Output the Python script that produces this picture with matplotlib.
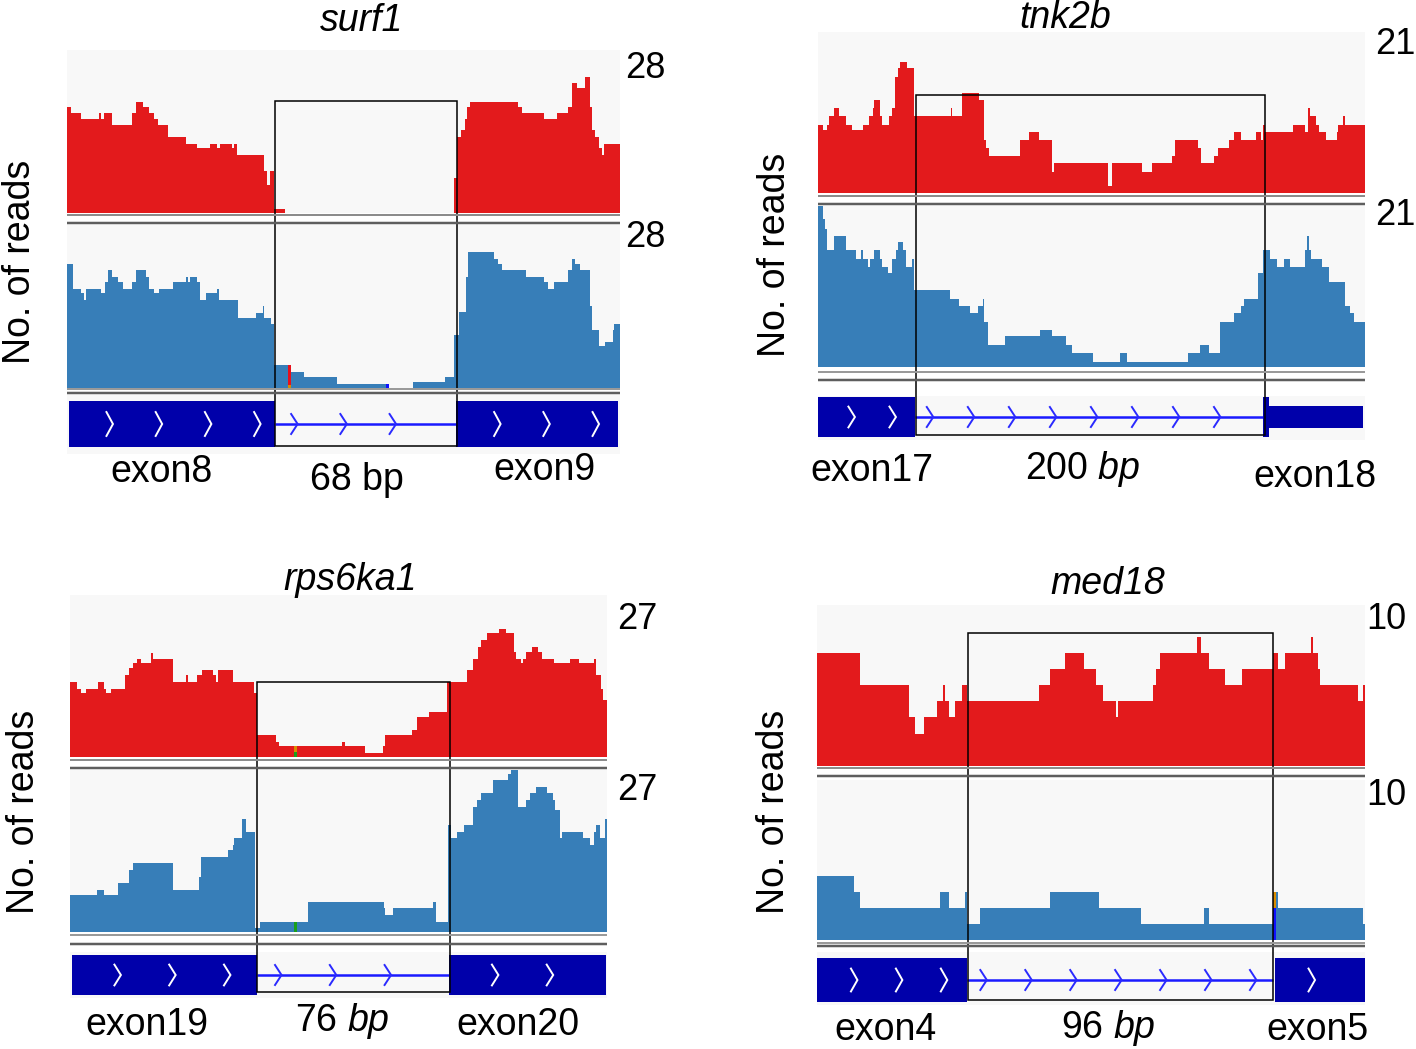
import matplotlib
matplotlib.use('Agg')
import matplotlib.pyplot as plt
from matplotlib.lines import Line2D
from matplotlib.patches import Rectangle
from matplotlib import transforms
import numpy as np

plt.rcParams['font.family'] = ['Liberation Sans', 'DejaVu Sans']
plt.rcParams['mathtext.fontset'] = 'custom'
plt.rcParams['mathtext.rm'] = 'Liberation Sans'
plt.rcParams['mathtext.it'] = 'Liberation Sans:italic'

# ---------------- data (x = position along the window, % ; y = reads) ----------------
genes = ['surf1', 'tnk2b', 'rps6ka1', 'med18']
scale_max = [28, 21, 27, 10]
left_exon = ['exon8', 'exon17', 'exon19', 'exon4']
right_exon = ['exon9', 'exon18', 'exon20', 'exon5']
intron_text = ['68 bp', '200 $\\mathit{bp}$', '76 $\\mathit{bp}$', '96 $\\mathit{bp}$']

surf1_red_pos = [0, 0.7, 2.5, 5.8, 6.1, 6.7, 8.1, 11.8, 12.5, 13.8, 14.8, 15.8, 16.5, 18.2, 21.5, 23.5,
                 25.9, 27.2, 27.7, 29.9, 30.2, 30.7, 35.7, 36.2, 36.7, 37.4, 39.5, 69.9, 70.6, 71.3,
                 71.9, 72.3, 72.9, 81.6, 82.3, 86.3, 88.6, 90.6, 91.3, 92.2, 93.7, 94.5, 95.0, 95.5,
                 96.2, 96.7, 97.1, 100]
surf1_red = [18.2, 17.1, 16.2, 17.1, 16.2, 17.1, 15.1, 17.1, 19.1, 18.2, 17.1, 16.2, 15.1, 13.1, 11.9,
             11.1, 11.9, 11.1, 11.9, 11.1, 11.9, 9.9, 7.1, 4.8, 7.1, 0.7, 0, 5.9, 13.1, 14.3, 16.2,
             18.2, 19.1, 18.2, 17.1, 16.2, 17.1, 18.2, 22.3, 21.4, 23.4, 18.2, 14.3, 13.1, 11.1, 9.9, 11.9]
surf1_blue_pos = [0, 1.0, 2.5, 3.0, 3.5, 6.1, 6.8, 7.5, 8.1, 9.2, 10.2, 11.8, 12.5, 14.2, 14.8, 15.8,
                  16.7, 19.2, 21.5, 21.8, 22.3, 23.5, 24.0, 25.2, 27.2, 27.5, 30.9, 34.1, 35.4, 35.7,
                  36.9, 37.5, 40.5, 42.9, 48.9, 57.9, 62.6, 68.3, 69.9, 70.9, 72.1, 72.5, 77.3, 78.0,
                  78.6, 83.0, 86.3, 86.9, 88.0, 90.6, 91.3, 91.8, 92.7, 94.5, 94.9, 96.2, 97.3, 98.7,
                  99.0, 100]
surf1_blue = [21.3, 17.0, 16.2, 15.0, 17.0, 16.2, 18.2, 20.2, 19.0, 18.2, 17.0, 18.2, 20.2, 19.0, 17.0,
              16.2, 17.0, 18.2, 19.0, 18.2, 19.0, 18.2, 15.0, 16.2, 17.0, 15.0, 11.9, 12.9, 14.1, 11.9,
              11.0, 3.9, 2.7, 1.9, 0.7, 0, 0.9, 1.9, 9.0, 13.0, 19.0, 23.3, 22.1, 21.3, 20.2, 19.0,
              18.2, 17.0, 18.2, 20.2, 22.1, 21.3, 20.2, 14.1, 9.9, 7.1, 7.9, 9.9, 11.0]

tnk2b_red_pos = [0, 0.9, 1.6, 2.1, 3.0, 3.9, 5.1, 6.2, 8.3, 9.3, 10.0, 10.3, 11.4, 11.7, 13.0, 13.5,
                 14.0, 14.7, 15.0, 16.3, 17.5, 24.3, 24.5, 26.4, 29.4, 30.3, 30.8, 31.3, 36.9, 38.5,
                 40.4, 42.7, 43.1, 53.0, 53.7, 59.2, 61.0, 64.8, 65.2, 69.4, 70.1, 72.4, 73.1, 75.2,
                 76.1, 77.3, 80.1, 81.0, 81.3, 81.7, 86.9, 89.0, 89.6, 89.9, 91.1, 91.5, 92.9, 94.8,
                 95.1, 96.0, 96.4, 100]
tnk2b_red = [8.9, 8.2, 8.9, 10.0, 11.1, 10.0, 8.9, 8.2, 8.9, 10.0, 11.1, 12.1, 10.0, 8.9, 10.0, 11.1,
             15.2, 16.3, 17.1, 16.3, 10.0, 11.1, 10.0, 13.0, 12.1, 6.9, 5.9, 4.9, 6.9, 8.0, 6.9, 2.8,
             3.9, 0.9, 3.9, 2.8, 3.9, 4.9, 6.9, 5.9, 3.9, 4.9, 5.9, 6.9, 8.0, 6.9, 8.0, 6.9, 8.9, 8.0,
             8.9, 8.0, 11.1, 10.0, 8.9, 8.0, 6.9, 8.0, 8.9, 10.0, 8.9]
tnk2b_blue_pos = [0, 0.9, 1.3, 1.6, 3.0, 5.2, 6.9, 7.9, 8.3, 9.1, 9.5, 10.2, 11.4, 11.7, 12.8, 13.5,
                  14.2, 14.7, 15.6, 16.1, 17.2, 17.5, 24.2, 25.7, 27.8, 29.2, 30.1, 30.3, 31.0, 34.1,
                  40.6, 42.7, 45.3, 46.4, 50.2, 55.2, 56.5, 67.7, 69.9, 71.5, 73.5, 76.1, 77.3, 77.8,
                  80.4, 81.3, 82.7, 83.9, 85.2, 86.2, 89.0, 89.4, 89.7, 90.1, 92.2, 93.4, 96.4, 97.2,
                  97.9, 100]
tnk2b_blue = [21.0, 19.3, 17.9, 15.2, 17.0, 15.2, 14.1, 15.2, 14.1, 13.0, 14.1, 15.2, 14.1, 13.0, 12.2,
              14.1, 15.2, 16.3, 15.2, 13.0, 14.1, 10.0, 8.9, 7.9, 7.0, 7.9, 8.9, 5.9, 2.9, 4.0, 4.8,
              4.0, 2.9, 1.8, 0.7, 1.8, 0.7, 1.8, 2.9, 1.8, 5.9, 7.0, 7.9, 8.9, 12.2, 15.2, 14.1, 13.0,
              14.1, 13.0, 15.2, 17.0, 15.2, 14.1, 13.0, 11.1, 7.9, 7.0, 5.9]

rps6ka1_red_pos = [0, 1.3, 2.1, 3.0, 5.2, 6.3, 6.7, 7.7, 10.3, 11.0, 11.7, 12.5, 13.2, 15.0, 15.4, 19.2,
                   21.6, 22.0, 23.6, 24.5, 26.6, 27.1, 27.6, 30.4, 34.3, 34.8, 38.3, 38.9, 50.6, 51.3,
                   54.9, 58.3, 58.7, 63.6, 64.6, 66.9, 70.2, 73.9, 75.1, 75.9, 76.6, 77.6, 79.9, 81.2,
                   82.6, 83.1, 84.0, 84.4, 84.9, 86.0, 87.2, 87.9, 90.2, 93.1, 94.7, 97.5, 97.9, 98.9,
                   99.2, 100]
rps6ka1_red = [12.5, 11.4, 10.6, 11.4, 12.5, 11.4, 10.6, 11.4, 13.6, 14.8, 15.6, 16.4, 15.6, 17.3, 16.4,
               12.5, 13.6, 12.5, 13.6, 14.5, 13.6, 12.5, 14.5, 12.5, 10.6, 3.6, 2.5, 1.8, 2.5, 1.8, 0.6,
               1.8, 3.6, 4.5, 6.7, 7.5, 12.5, 14.5, 16.4, 18.4, 19.5, 20.6, 21.4, 20.6, 17.5, 16.4, 15.7,
               16.4, 17.5, 18.4, 17.5, 16.4, 15.6, 16.4, 15.6, 16.4, 13.6, 11.4, 9.5]
rps6ka1_blue_pos = [0, 5.0, 6.3, 9.0, 11.0, 11.7, 19.2, 24.0, 24.4, 29.4, 30.3, 30.6, 32.0, 32.8, 34.5,
                    35.4, 44.4, 58.4, 58.7, 60.1, 67.6, 68.2, 70.4, 70.9, 72.1, 73.4, 75.1, 75.8, 76.6,
                    78.7, 81.6, 82.2, 83.4, 84.9, 85.6, 86.8, 88.9, 89.9, 90.4, 91.2, 91.7, 95.5, 96.9,
                    97.5, 97.9, 98.7, 99.7, 100]
rps6ka1_blue = [6.1, 7.0, 6.1, 8.1, 10.3, 11.4, 7.0, 9.2, 12.5, 13.6, 14.5, 15.6, 18.9, 16.7, 0.6, 1.7,
                5.0, 3.9, 2.8, 3.9, 5.0, 1.7, 17.8, 15.6, 16.7, 17.8, 20.9, 22.0, 23.1, 25.3, 26.4, 27.0,
                20.9, 22.0, 23.1, 24.2, 23.1, 22.0, 20.3, 15.6, 16.7, 15.6, 14.5, 16.7, 17.8, 15.6, 18.9]

med18_red_pos = [0, 7.8, 16.7, 17.8, 19.5, 21.9, 23.0, 23.3, 24.0, 25.1, 26.5, 27.3, 40.6, 42.5, 45.3,
                 48.8, 50.9, 52.1, 54.5, 55.0, 61.4, 61.9, 62.6, 69.3, 70.0, 71.6, 74.4, 77.5, 83.3,
                 84.2, 85.4, 90.1, 90.5, 91.4, 91.8, 98.8, 99.7, 100]
med18_red = [7, 5, 3, 2, 3, 4, 5, 4, 3, 4, 5, 4, 5, 6, 7, 6, 5, 4, 3, 4, 5, 6, 7, 8, 7, 6, 5, 6, 7, 6,
             7, 8, 7, 6, 5, 4, 5]
med18_blue_pos = [0, 6.8, 7.8, 22.5, 24.0, 27.0, 27.3, 29.8, 42.5, 51.5, 59.1, 70.7, 71.6, 83.3, 84.2,
                  99.7, 100]
med18_blue = [4, 3, 2, 3, 2, 3, 1, 2, 3, 2, 1, 2, 1, 3, 2, 1]

red_pos = [surf1_red_pos, tnk2b_red_pos, rps6ka1_red_pos, med18_red_pos]
red_vals = [surf1_red, tnk2b_red, rps6ka1_red, med18_red]
blue_pos = [surf1_blue_pos, tnk2b_blue_pos, rps6ka1_blue_pos, med18_blue_pos]
blue_vals = [surf1_blue, tnk2b_blue, rps6ka1_blue, med18_blue]

# gene models (% of window)
exons = [[(0.3, 37.7), (70.4, 99.7)],
         [(0.0, 17.7), (81.3, 82.5)],
         [(0.3, 34.8), (70.6, 99.9)],
         [(0.0, 27.3), (83.5, 100.0)]]
utrs = [[], [(82.5, 99.7)], [], []]
introns = [(37.7, 70.4), (17.7, 81.3), (34.8, 70.6), (27.3, 83.3)]
boxes = [(37.7, 70.6), (18.0, 81.7), (34.8, 70.7), (27.5, 83.3)]

# mismatch columns: (panel, track, position, [(from, to, colour), ...])
mismatches = [
    (0, 'blue', 40.0, [(0.0, 0.5, '#d98c00'), (0.5, 3.9, '#e8101c')]),
    (0, 'blue', 57.6, [(0.0, 0.7, '#1010ff')]),
    (2, 'red', 41.8, [(0.0, 0.9, '#1aa01a'), (0.9, 1.8, '#d98c00')]),
    (2, 'blue', 41.8, [(0.0, 1.7, '#1aa01a')]),
    (3, 'blue', 83.3, [(0.0, 2.0, '#1010ff'), (2.0, 3.0, '#d98c00')]),
]

# ---------------- layout (pixels of the 1416x1049 canvas) ----------------
layout = [
    dict(x=(67, 620), red=(50, 212.7), blue=(224.5, 387.7), sep_blue=(1.5, 5.0),
         gene=(395, 454), exon=(401, 447), utr=(406, 428), intron_y=424, box_y=(101, 446),
         gap=8.9, scale_x=625, scale_y=(78, 247), title=(362, 31), ylab=(20, 262),
         lab_x=(162, 357, 544), lab_y=(482, 490, 480)),
    dict(x=(818, 1365), red=(32, 193.3), blue=(205.5, 367.3), sep_blue=(4.5, 12.5),
         gene=(396, 440), exon=(397, 437), utr=(406, 428), intron_y=417, box_y=(95, 435),
         gap=7.5, scale_x=1375, scale_y=(54, 225), title=(1065, 28), ylab=(775, 255),
         lab_x=(872, 1083, 1315), lab_y=(481, 479, 487)),
    dict(x=(70, 607), red=(595, 757), blue=(770, 931.7), sep_blue=(3.5, 12.0),
         gene=(952, 998), exon=(955, 995), utr=(964, 986), intron_y=975, box_y=(682, 992),
         gap=10.2, scale_x=617, scale_y=(629, 800), title=(350, 590), ylab=(24, 812),
         lab_x=(147, 342, 518), lab_y=(1035, 1031, 1035)),
    dict(x=(817, 1365), red=(605, 765.7), blue=(780, 940), sep_blue=(2.5, 6.0),
         gene=(952, 1005), exon=(958, 1002), utr=(968, 992), intron_y=980, box_y=(633, 1000),
         gap=8.2, scale_x=1366, scale_y=(629, 805), title=(1108, 594), ylab=(774, 812),
         lab_x=(885, 1108, 1318), lab_y=(1040, 1038, 1040)),
]

W, H = 1416, 1049
RED = '#e31a1c'
BLUE = '#377eb8'
EXON = '#0000aa'
INTRON = '#1a1aff'
BG = '#f8f8f8'
FS = 27

fig = plt.figure(figsize=(W / 100, H / 100), dpi=100)
fig.patch.set_facecolor('white')


def px_axes(x0, x1, y0, y1):
    ax = fig.add_axes([x0 / W, 1 - y1 / H, (x1 - x0) / W, (y1 - y0) / H])
    ax.set_facecolor(BG)
    for s in ax.spines.values():
        s.set_visible(False)
    ax.set_xticks([])
    ax.set_yticks([])
    ax.set_xlim(0, 100)
    return ax


def hline(x0, x1, y, color, lw_px):
    fig.add_artist(Line2D([x0 / W, x1 / W], [1 - y / H, 1 - y / H], transform=fig.transFigure,
                          color=color, lw=lw_px * 0.72, solid_capstyle='butt'))


def chevrons(ax, a, b, gap, first, y, half_h, w, color, lw):
    pos = a + first
    while pos < b - 0.3 * gap:
        ax.plot([pos - w, pos, pos - w], [y - half_h, y, y + half_h], color=color, lw=lw,
                solid_joinstyle='miter', zorder=4)
        pos += gap


for i, L in enumerate(layout):
    x0, x1 = L['x']
    track_w = x1 - x0

    # coverage tracks
    axes = {}
    for key, pos, vals, col in [('red', red_pos[i], red_vals[i], RED),
                                ('blue', blue_pos[i], blue_vals[i], BLUE)]:
        y0, y1 = L[key]
        ax = px_axes(x0, x1, y0, y1)
        ax.set_ylim(0, scale_max[i])
        ax.stairs(vals, pos, fill=True, color=col, lw=0)
        axes[key] = ax

    for p, trk, xpos, parts in mismatches:
        if p == i:
            for lo, hi, c in parts:
                axes[trk].bar(xpos, hi - lo, bottom=lo, width=0.55, color=c, align='edge', lw=0)

    # separators under the tracks
    rb = L['red'][1]
    hline(x0, x1, rb + 2.5, '#8c8c8c', 2)
    hline(x0, x1, rb + 10.5, '#5e5e5e', 2.5)
    bb = L['blue'][1]
    hline(x0, x1, bb + L['sep_blue'][0], '#9a9a9a', 2)
    hline(x0, x1, bb + L['sep_blue'][1], '#5e5e5e', 2.5)

    # gene model
    g0, g1 = L['gene']
    gax = px_axes(x0, x1, g0, g1)
    gax.set_ylim(g1, g0)
    e0, e1 = L['exon']
    iy = L['intron_y']
    a, b = introns[i]
    gax.plot([a, b], [iy, iy], color=INTRON, lw=1.8, zorder=3, solid_capstyle='butt')
    for a_e, b_e in exons[i]:
        gax.add_patch(Rectangle((a_e, e0), b_e - a_e, e1 - e0, color=EXON, lw=0, zorder=3))
        chevrons(gax, a_e, b_e, L['gap'], 0.9 * L['gap'], iy, 0.26 * (e1 - e0),
                 650 / track_w, 'white', 1.4)
    for a_u, b_u in utrs[i]:
        u0, u1 = L['utr']
        gax.add_patch(Rectangle((a_u, u0), b_u - a_u, u1 - u0, color=EXON, lw=0, zorder=3))
    chevrons(gax, a, b, L['gap'], 0.45 * L['gap'], iy, 10, 650 / track_w, '#2a2aff', 1.4)

    # highlighted intron box spanning all tracks
    trans = transforms.blended_transform_factory(gax.transData, fig.transFigure)
    by0, by1 = L['box_y']
    bx0, bx1 = boxes[i]
    gax.add_patch(Rectangle((bx0, 1 - by1 / H), bx1 - bx0, (by1 - by0) / H, transform=trans,
                            fill=False, ec='black', lw=1.1, clip_on=False, zorder=10))

    # texts
    for sy in L['scale_y']:
        fig.text(L['scale_x'] / W, 1 - sy / H, str(scale_max[i]), fontsize=26,
                 ha='left', va='baseline')
    fig.text(L['title'][0] / W, 1 - L['title'][1] / H, genes[i], fontsize=FS,
             style='italic', ha='center', va='baseline')
    fig.text(L['ylab'][0] / W, 1 - L['ylab'][1] / H, 'No. of reads', fontsize=FS,
             rotation=90, ha='center', va='center')
    for tx, ty, s in zip(L['lab_x'], L['lab_y'], [left_exon[i], intron_text[i], right_exon[i]]):
        fig.text(tx / W, 1 - ty / H, s, fontsize=FS, ha='center', va='baseline')

fig.savefig('out.png', dpi=100, facecolor='white')
